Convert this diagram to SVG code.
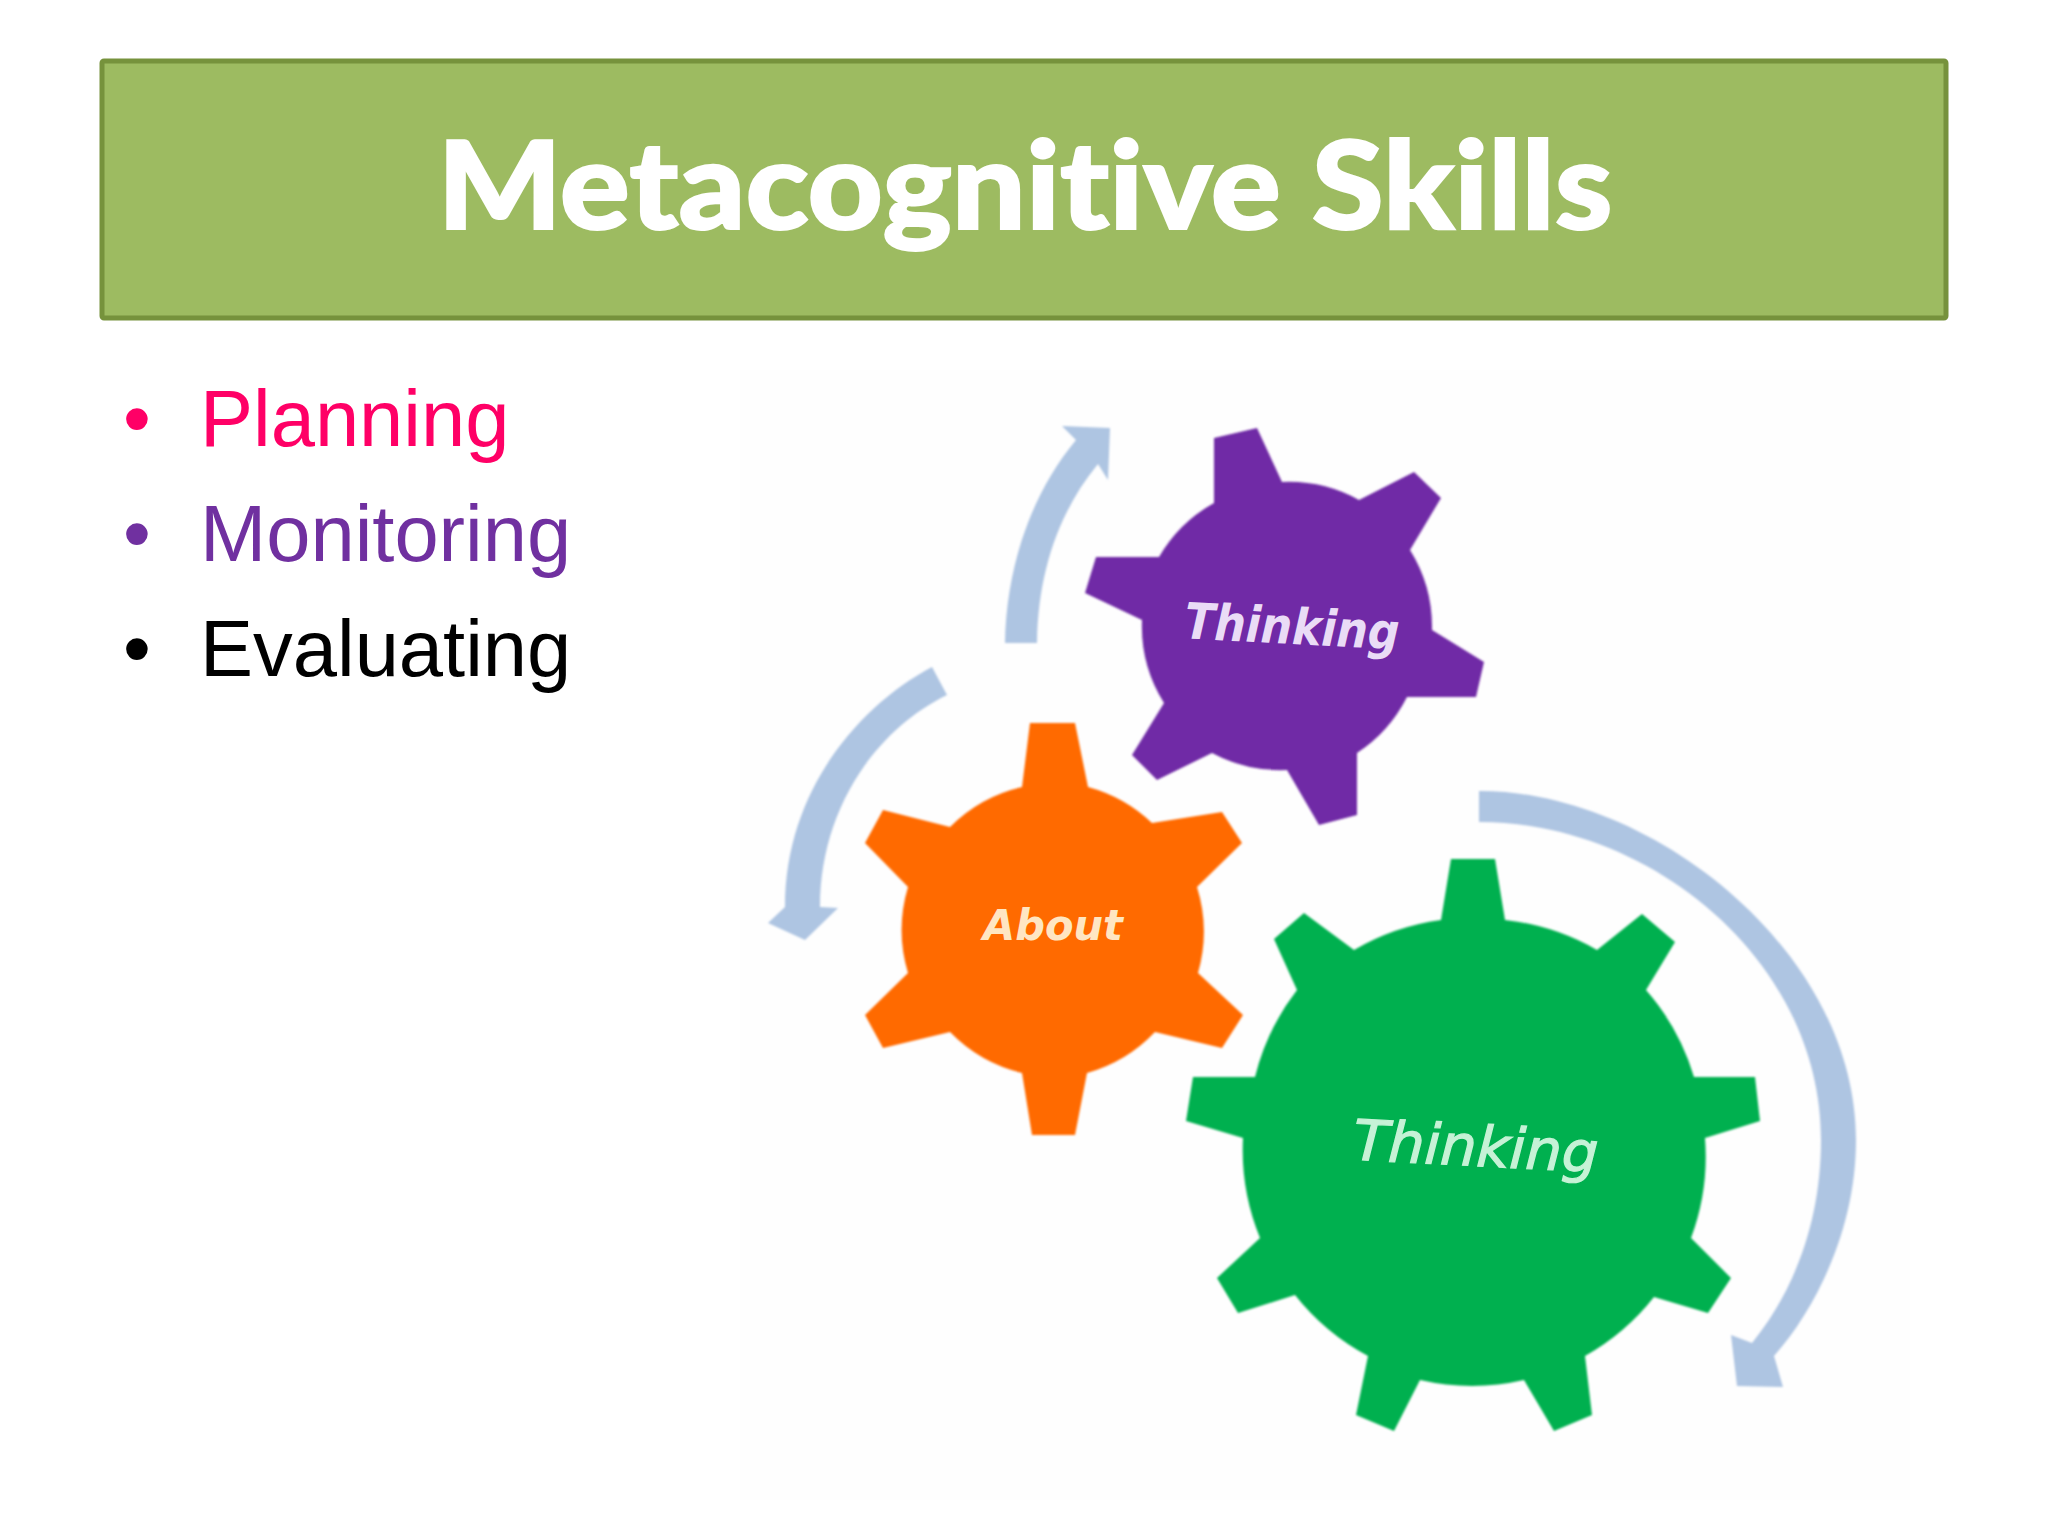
<svg xmlns="http://www.w3.org/2000/svg" width="2048" height="1536" viewBox="0 0 2048 1536">
<style>
.body{font-family:"Liberation Sans",Arial,sans-serif;font-size:79.5px}
.gearlabel{font-family:"DejaVu Sans",sans-serif;font-style:italic;font-weight:700;text-anchor:middle}
.arrow{fill:#aec5e2;filter:url(#soft)}
.gear{filter:url(#soft)}
</style>
<defs><filter id="soft" x="-5%" y="-5%" width="110%" height="110%"><feGaussianBlur stdDeviation="1.2"/></filter></defs>
<rect width="2048" height="1536" fill="#ffffff"/>
<rect x="740" y="370" width="1170" height="1130" fill="#fefefe"/>
<g id="title">
<rect x="102" y="61" width="1844" height="257" fill="#9dbb61" stroke="#76923c" stroke-width="5" rx="2"/>
<text x="1025" y="229" text-anchor="middle" textLength="1175" lengthAdjust="spacingAndGlyphs" font-family="Lato,'Open Sans',sans-serif" font-weight="900" font-size="122" fill="#ffffff" stroke="#ffffff" stroke-width="2" style="font-variant-ligatures:none">Metacognitive Skills</text>
</g>
<g id="bullets">
<text class="body" x="123" y="446" fill="#ff0066">•</text><text class="body" x="200" y="446" fill="#ff0066">Planning</text>
<text class="body" x="123" y="561" fill="#7030a0">•</text><text class="body" x="200" y="561" fill="#7030a0">Monitoring</text>
<text class="body" x="123" y="676" fill="#000000">•</text><text class="body" x="200" y="676" fill="#000000">Evaluating</text>
</g>
<g id="connectors">
<path class="arrow" d="M1005 643C1006 570 1030 495 1076 440L1062 426L1110 428L1108 480L1098 464C1060 510 1038 570 1037 643Z"/>
<path class="arrow" d="M932 667C860 705 785 790 785 907L768 923L805 940L838 908L820 907C820 810 875 730 947 695Z"/>
<path class="arrow" d="M1479 791C1650 790 1856 950 1856 1140C1856 1230 1815 1310 1774 1356L1783 1387L1737 1386L1731 1335L1752 1343C1795 1290 1821 1220 1821 1140C1821 960 1650 822 1479 822Z"/>
</g>
<g id="gear-thinking-purple">
<path class="gear" fill="#7029a6" d="M1214 438L1257 428L1282 482A145 145 0 0 1 1359 500L1414 472L1441 498L1410 550A145 145 0 0 1 1432 630L1484 662L1476 697L1407 697A145 145 0 0 1 1357 753L1357 815L1319 825L1287 770A145 145 0 0 1 1212 753L1157 780L1132 755L1164 703A145 145 0 0 1 1142 620L1085 593L1096 557L1159 557A145 145 0 0 1 1214 503Z"/>
<text class="gearlabel" x="1292" y="644" font-size="50" textLength="215" lengthAdjust="spacingAndGlyphs" fill="#eadcf6" transform="rotate(3 1292 627)">Thinking</text>
</g>
<g id="gear-about">
<path class="gear" fill="#ff6a00" d="M1030 723L1075 723L1088 787A150 150 0 0 1 1152 823L1222 812L1242 843L1197 887A150 150 0 0 1 1198 973L1243 1015L1222 1048L1155 1032A150 150 0 0 1 1087 1073L1075 1135L1032 1135L1022 1073A150 150 0 0 1 950 1032L883 1048L865 1015L908 973A150 150 0 0 1 908 887L865 843L883 810L950 827A150 150 0 0 1 1022 787Z"/>
<text class="gearlabel" x="1053" y="940" font-size="42" textLength="140" lengthAdjust="spacingAndGlyphs" fill="#ffe6c2">About</text>
</g>
<g id="gear-thinking-green">
<path class="gear" fill="#00b050" d="M1451 859L1495 859L1505 920A233 233 0 0 1 1597 950L1642 914L1675 942L1646 990A233 233 0 0 1 1694 1077L1755 1077L1760 1121L1705 1138A233 233 0 0 1 1691 1238L1731 1278L1708 1313L1654 1297A233 233 0 0 1 1585 1356L1592 1415L1554 1431L1524 1380A233 233 0 0 1 1420 1380L1394 1431L1356 1415L1368 1356A233 233 0 0 1 1295 1295L1238 1313L1217 1278L1260 1238A233 233 0 0 1 1243 1138L1186 1121L1193 1077L1255 1077A233 233 0 0 1 1297 990L1274 939L1304 913L1354 950A233 233 0 0 1 1441 920Z"/>
<text class="gearlabel" x="1476" y="1166" font-size="56" textLength="245" lengthAdjust="spacingAndGlyphs" fill="#c6f2d6" stroke="#c6f2d6" stroke-width="1.2" style="font-weight:400" transform="rotate(3 1476 1145)">Thinking</text>
</g>
</svg>
